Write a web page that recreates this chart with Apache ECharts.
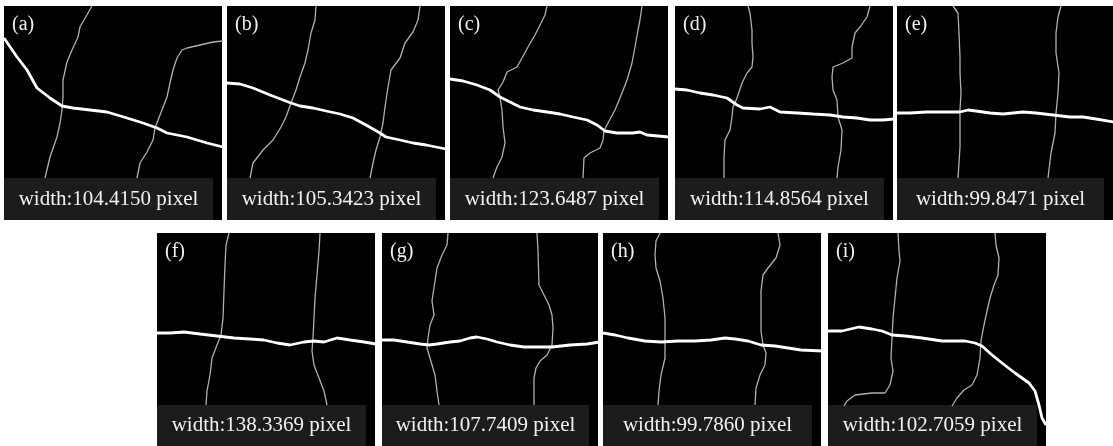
<!DOCTYPE html>
<html>
<head>
<meta charset="utf-8">
<script src="https://cdn.jsdelivr.net/npm/echarts@6/dist/echarts.min.js"></script>
<style>
  html, body { margin: 0; padding: 0; background: #fff; }
  #chart { width: 1113px; height: 446px; }
</style>
</head>
<body>
<div id="chart"></div>
<script>
// panel tags and measured widths
const tags = ['(a)', '(b)', '(c)', '(d)', '(e)', '(f)', '(g)', '(h)', '(i)'];
const widths = ['104.4150', '105.3423', '123.6487', '114.8564', '99.8471', '138.3369', '107.7409', '99.7860', '102.7059'];

// crack traces, pixel coords inside each panel (x right, y down)
const mainA = [[0,32],[13,51],[23,64],[33,82],[46,92],[58,100],[69,102],[103,106],[123,112],[139,117],[153,122],[163,127],[183,131],[203,137],[219,141]];
const leftA = [[88,0],[84,7],[76,21],[74,31],[68,44],[63,56],[59,74],[59,91],[58,104],[56,117],[53,131],[46,151],[41,172]];
const rightA = [[219,35],[209,36],[196,39],[183,42],[178,44],[173,52],[169,64],[166,77],[163,91],[156,109],[151,122],[149,134],[143,146],[136,157],[133,172]];

const mainB = [[0,77],[13,78],[26,82],[43,89],[56,94],[64,97],[73,100],[86,102],[99,105],[113,108],[126,112],[139,119],[153,127],[159,131],[173,134],[186,137],[199,139],[219,143]];
const leftB = [[89,0],[88,14],[84,27],[81,44],[78,57],[73,71],[69,84],[64,97],[59,111],[54,121],[46,134],[36,144],[26,157],[23,172]];
const rightB = [[193,0],[191,14],[186,26],[178,37],[173,52],[164,64],[161,81],[158,101],[156,117],[153,131],[149,144],[146,157],[143,172]];

const mainC = [[0,73],[13,75],[27,79],[40,84],[50,91],[60,96],[70,101],[83,104],[97,106],[110,108],[123,111],[137,114],[147,119],[155,125],[167,127],[183,127],[190,126],[197,129],[219,131]];
const leftC = [[97,0],[95,9],[90,19],[85,29],[78,41],[72,52],[67,61],[57,66],[53,76],[48,84],[50,91],[52,104],[53,121],[55,137],[52,151],[47,161],[43,172]];
const rightC = [[192,0],[190,14],[188,24],[185,41],[182,57],[177,74],[172,87],[165,104],[158,117],[154,125],[153,134],[150,142],[140,147],[134,152],[133,172]];

const mainD = [[0,83],[12,84],[25,87],[38,89],[52,92],[62,99],[68,102],[85,103],[95,101],[105,106],[122,107],[138,108],[155,109],[168,111],[182,112],[195,114],[208,114],[219,113]];
const leftD = [[73,0],[75,7],[77,24],[77,37],[78,51],[77,61],[72,67],[67,77],[62,92],[58,101],[57,111],[55,124],[50,134],[49,151],[49,172]];
const rightD = [[195,0],[192,11],[185,21],[180,27],[177,41],[177,52],[168,57],[158,61],[157,71],[158,84],[162,94],[163,111],[167,124],[166,144],[163,161],[162,172]];

const mainE = [[0,107],[13,107],[29,106],[46,106],[63,106],[71,104],[79,105],[93,107],[106,108],[116,107],[126,106],[139,107],[156,109],[173,111],[186,111],[199,113],[217,116]];
const leftE = [[56,0],[61,7],[62,27],[63,51],[63,67],[64,87],[63,104],[63,121],[63,141],[61,172]];
const rightE = [[164,0],[161,11],[159,27],[159,47],[162,67],[161,87],[159,107],[158,127],[154,147],[151,172]];

const mainF = [[0,100],[13,100],[27,99],[43,101],[60,103],[77,105],[93,106],[107,107],[120,110],[133,112],[147,109],[157,108],[167,109],[180,105],[193,107],[207,109],[219,111]];
const leftF = [[72,0],[69,12],[68,32],[67,58],[66,85],[64,102],[60,112],[55,125],[53,142],[50,158],[49,172]];
const rightF = [[163,0],[162,18],[160,42],[158,65],[157,85],[156,105],[155,118],[157,132],[162,145],[167,158],[170,172]];

const mainG = [[0,107],[12,107],[25,109],[38,111],[47,112],[55,111],[68,109],[78,108],[88,105],[95,104],[105,106],[115,109],[128,112],[142,114],[155,114],[170,114],[188,112],[205,111],[218,109]];
const leftG = [[66,0],[65,12],[60,22],[55,35],[53,48],[50,68],[52,82],[48,92],[46,105],[45,115],[48,125],[53,142],[55,158],[57,172]];
const rightG = [[155,0],[156,18],[157,52],[162,62],[167,72],[170,82],[171,95],[170,112],[165,122],[158,128],[154,135],[152,145],[152,172]];

const mainH = [[0,100],[12,102],[25,105],[42,108],[58,109],[75,108],[92,108],[108,107],[122,105],[132,106],[145,108],[158,112],[172,113],[185,115],[198,117],[220,118]];
const leftH = [[57,0],[53,8],[52,22],[53,35],[57,48],[60,65],[62,85],[62,105],[62,125],[58,142],[56,158],[55,172]];
const rightH = [[175,0],[177,12],[173,25],[165,35],[160,42],[158,58],[158,78],[158,98],[160,112],[163,120],[162,132],[157,142],[153,155],[152,172]];

const mainI = [[0,98],[14,98],[31,94],[44,96],[54,98],[64,102],[77,103],[94,105],[114,108],[137,108],[147,110],[154,113],[164,122],[174,130],[187,140],[201,150],[207,158],[211,172],[214,185],[218,192]];
const leftI = [[70,0],[71,18],[72,28],[69,45],[67,65],[65,85],[64,105],[63,125],[65,138],[62,152],[57,160],[44,160],[27,162],[19,168],[16,173]];
const rightI = [[167,0],[168,12],[171,25],[170,42],[166,52],[162,65],[159,78],[156,92],[153,108],[152,125],[149,142],[144,152],[136,157],[129,165],[124,173]];

const mains = [mainA, mainB, mainC, mainD, mainE, mainF, mainG, mainH, mainI];
const lefts = [leftA, leftB, leftC, leftD, leftE, leftF, leftG, leftH, leftI];
const rights = [rightA, rightB, rightC, rightD, rightE, rightF, rightG, rightH, rightI];

// panel placement on the page
const panels = [
  { left: 4, top: 6, w: 218, h: 214 },
  { left: 227, top: 6, w: 218, h: 214 },
  { left: 450, top: 6, w: 218, h: 214 },
  { left: 675, top: 6, w: 218, h: 214 },
  { left: 897, top: 6, w: 216, h: 214 },
  { left: 157, top: 233, w: 218, h: 213 },
  { left: 382, top: 233, w: 216, h: 213 },
  { left: 603, top: 233, w: 218, h: 213 },
  { left: 828, top: 233, w: 218, h: 213 }
];

const serif = '"Liberation Serif", "DejaVu Serif", serif';
const chart = echarts.init(document.getElementById('chart'));

const grid = [], xAxis = [], yAxis = [], series = [], title = [];
panels.forEach((p, i) => {
  grid.push({ left: p.left, top: p.top, width: p.w, height: p.h, show: true,
    backgroundColor: '#000', borderWidth: 0 });
  xAxis.push({ gridIndex: i, type: 'value', min: 0, max: p.w, show: false });
  yAxis.push({ gridIndex: i, type: 'value', min: 0, max: p.h, inverse: true, show: false });
  const thin = { color: '#b0b0b0', width: 1.3 };
  series.push({
    type: 'line', xAxisIndex: i, yAxisIndex: i, data: lefts[i], symbol: 'none',
    lineStyle: thin, silent: true, z: 2,
    markArea: {
      silent: true,
      itemStyle: { color: '#1c1c1c' },
      label: { show: true, position: 'inside', color: '#f2f2f2', fontFamily: serif, fontSize: 21,
        formatter: 'width:' + widths[i] + ' pixel' },
      data: [[{ coord: [0, 172] }, { coord: [p.w - 9, p.h] }]]
    }
  });
  series.push({ type: 'line', xAxisIndex: i, yAxisIndex: i, data: rights[i], symbol: 'none',
    lineStyle: thin, silent: true, z: 2 });
  series.push({ type: 'line', xAxisIndex: i, yAxisIndex: i, data: mains[i], symbol: 'none',
    lineStyle: { color: '#fff', width: 2.8 }, silent: true, z: 3 });
  title.push({ text: tags[i], left: p.left + 8, top: p.top + 9, padding: 0,
    textStyle: { color: '#f2f2f2', fontFamily: serif, fontSize: 20, fontWeight: 'normal' } });
});

chart.setOption({ animation: false, backgroundColor: '#fff', title, grid, xAxis, yAxis, series });
</script>
</body>
</html>
